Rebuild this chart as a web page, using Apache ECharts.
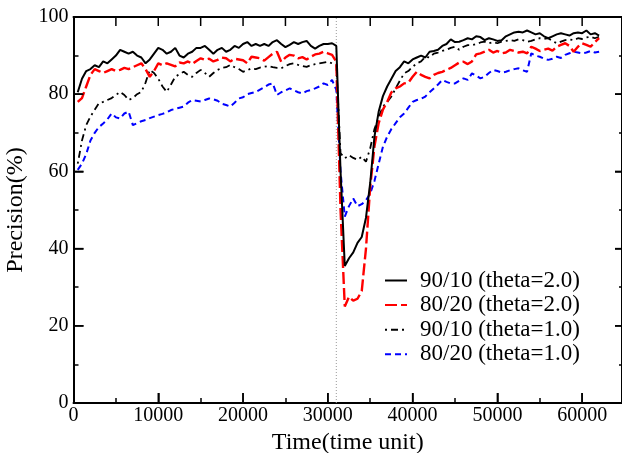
<!DOCTYPE html>
<html>
<head>
<meta charset="utf-8">
<script src="https://cdn.jsdelivr.net/npm/echarts@6/dist/echarts.min.js"></script>
<style>
html,body{margin:0;padding:0;background:#fff;}
#chart{width:622px;height:453px;}
</style>
</head>
<body>
<div id="chart"></div>
<script>
var times = [
  500,1000,1500,2000,2500,3000,3500,4000,4500,5000,
  5500,6000,6500,7000,7500,8000,8500,9000,9500,10000,
  10500,11000,11500,12000,12500,13000,13500,14000,14500,15000,
  15500,16000,16500,17000,17500,18000,18500,19000,19500,20000,
  20500,21000,21500,22000,22500,23000,23500,24000,24500,25000,
  25500,26000,26500,27000,27500,28000,28500,29000,29500,30000,
  30500,31000,31500,32000,32500,33000,33500,34000,34500,35000,
  35500,36000,36500,37000,37500,38000,38500,39000,39500,40000,
  40500,41000,41500,42000,42500,43000,43500,44000,44500,45000,
  45500,46000,46500,47000,47500,48000,48500,49000,49500,50000,
  50500,51000,51500,52000,52500,53000,53500,54000,54500,55000,
  55500,56000,56500,57000,57500,58000,58500,59000,59500,60000,
  60500,61000,61500,62000
];
var s90_10_t2 = [
  80.5,84,86,86.5,87.5,87,88.5,88,89,90,
  91.5,91,90.5,91,90,89.5,88,89,90.5,92,
  91.5,90.5,91,92,90,89.5,90.5,91,92,92,
  92.5,91.5,90.5,91.5,92,91,91.5,92.5,92,93,
  93.5,92.5,93,92.5,93,92.5,93.5,94,93,92.2,
  92.8,93.5,93,93.5,93.8,92.5,91.8,92.5,93,93,
  93.2,92.5,60,35.5,37.5,39,41.5,43,48,57,
  69,75.5,79.5,82,84,86,87,88.5,88,89,
  89.5,90,89.5,91,91.2,91.5,92.5,93,94.2,93.5,
  93.6,94,94.5,94.2,95,94.8,94,94.5,94.2,93.8,
  94,95,95.5,96,96.2,96,96.5,96,95.5,95.8,
  95,94.5,95,95.5,95.8,95.5,95.2,95.8,96,95.8,
  96.5,95.5,95.8,95.2
];
var s80_20_t2 = [
  78,79,82,85,86.5,86,85.5,86,86.5,86,
  86.3,86.8,86.5,87,87.5,88,86.5,84.5,86,88,
  87.5,88,87.6,87.2,88.2,88,88.5,87.8,88.6,89.3,
  88.9,89.2,88.5,88.9,89.5,89.3,88.5,89.2,89,88.8,
  88,89.7,89.5,89.3,88.7,89.6,90.5,91,88.4,89.5,
  90.2,90,89.3,89.6,89,89.7,90.3,90.5,91,90.6,
  90.2,88.4,50,25,27.5,26.5,27,29,40,56,
  66.5,72.5,76,78,80.5,81.5,82,82.8,83,84.5,
  85.8,85,84.5,84.1,85,85.5,85.8,86.3,86.8,87.5,
  88.2,88.4,87.8,88.5,90.3,90.6,91,91.5,90.8,91.2,
  90.6,90.8,91.5,91.2,90.8,91,90.6,92.3,91.8,91.2,
  91.5,91.8,91.3,92.3,92.8,93.2,92.5,91,92.3,93.2,
  92.8,92.3,93.5,94.5
];
var s90_10_t1 = [
  62,68,72,74.2,76,77.7,78,78.5,79,79.8,
  80.6,79.8,78.5,79,80,80.6,83,86.3,85.5,84,
  82,80.6,82.5,84.5,85.2,85.8,85,84.5,85.5,86.3,
  85.5,84.5,85.5,86.3,86.8,87,87.6,87,86.5,85.8,
  86.2,86.7,86.5,86.9,87.1,87.3,87,86.8,86.7,87.3,
  87.8,88,87.6,87.3,87.1,87.5,87.8,88,88.2,88.4,
  88,87.6,64.7,63.4,64.2,63.5,63,63.8,62.5,66,
  71,74,76.8,78,79.4,81.5,83.5,85.4,86,87.1,
  88,88.5,89.7,89.5,90.5,90.8,91.2,91.5,92,92.3,
  91.5,92.3,92.7,92.7,93,93.4,93.6,93.2,93.5,93.2,
  93.6,93.8,94,93.8,94.2,94,93.6,93.8,94.2,94.5,
  94.3,94.5,93.8,93.2,93.6,94,94.2,94,94.5,94.3,
  94.7,94.9,94.5,94.9
];
var s80_20_t1 = [
  60.4,62,64.5,68,70,71.5,72.4,73.5,75,74,
  73.7,75,75.5,72,72.5,73,73.3,73.8,74.2,74.6,
  74.9,75.3,75.9,76.2,76.5,76.8,77.8,78.5,78.3,78.1,
  78.5,78.9,78.7,78.3,77.5,77.2,76.8,77.8,78.9,79.2,
  80,80.3,80.6,81.2,81.8,82.5,82.8,79.8,80.5,81,
  81.5,81,80.5,80.2,80.8,81.1,81.5,82,82.8,82.4,
  83.7,81.1,60,48.3,51,53,51,51.5,52.5,54.3,
  57.5,62,66.4,69,71,72.5,74,75,76.5,78,
  78.5,78.8,79.4,80.5,81.5,82.5,83.7,83.2,82.8,82.8,
  83.5,84.1,83.7,85.4,84.8,84.1,84.5,85.5,86.3,86,
  85.6,85.8,86.2,86.5,86.7,86.2,85.8,90.6,90,89.7,
  89.2,88.9,89.2,89.7,89.4,90.2,90.6,91,90.8,90.6,
  90.8,91.2,90.8,91
];
var seriesNames = ['90/10 (theta=2.0)','80/20 (theta=2.0)','90/10 (theta=1.0)','80/20 (theta=1.0)'];
var markerTime = [31000];
var xTicks = [0,10000,20000,30000,40000,50000,60000];
var xTopTicks = [5000,10000,15000,20000,25000,30000,35000,40000,45000,50000,55000,60000];
var yTicks = [20,40,60,80];

function pairs(vals){ return times.map(function(t,i){ return [t, vals[i]]; }); }

var FONT = "'Liberation Serif','Times New Roman',serif";
var X_MAX = 64700;
var Y_MAX = 100;
var chart = echarts.init(document.getElementById('chart'), null, {renderer:'canvas'});

// tick marks placed at axis values through the library's coordinate system
var tickMarks = [];
xTicks.forEach(function(v){ if (v > 0) tickMarks.push({value:[v, 0], side:'b', len:10}); });
xTopTicks.forEach(function(v){ tickMarks.push({value:[v, Y_MAX], side:'t', len:9}); });
yTicks.forEach(function(v){ tickMarks.push({value:[0, v], side:'l', len:10}); });
yTicks.forEach(function(v){ tickMarks.push({value:[X_MAX, v], side:'r', len:7}); });

var xBottom = {
  type:'value', position:'bottom', min:0, max:X_MAX, interval:10000,
  axisLine:{show:true, onZero:false, lineStyle:{color:'#000', width:2}},
  axisTick:{show:true, inside:true, length:10, lineStyle:{color:'#000', width:1.5}},
  minorTick:{show:true, splitNumber:2, length:5, lineStyle:{color:'#000', width:1.5}},
  splitLine:{show:false},
  axisLabel:{show:true, color:'#000', fontFamily:FONT, fontSize:20, margin:3,
    showMaxLabel:false,
    formatter:function(v){ return xTicks.indexOf(v) >= 0 ? String(v) : ''; }},
  name:'Time(time unit)', nameLocation:'middle', nameGap:22,
  nameTextStyle:{color:'#000', fontFamily:FONT, fontSize:24}
};
var xTop = {
  type:'value', position:'top', min:0, max:X_MAX, interval:5000,
  axisLine:{show:true, onZero:false, lineStyle:{color:'#000', width:2}},
  axisTick:{show:false},
  splitLine:{show:false},
  axisLabel:{show:false}
};
var yLeft = {
  type:'value', position:'left', min:0, max:Y_MAX, interval:20,
  axisLine:{show:true, onZero:false, lineStyle:{color:'#000', width:2}},
  axisTick:{show:true, inside:true, length:10, lineStyle:{color:'#000', width:1.5}},
  minorTick:{show:true, splitNumber:2, length:5, lineStyle:{color:'#000', width:1.5}},
  splitLine:{show:false},
  axisLabel:{show:true, color:'#000', fontFamily:FONT, fontSize:20, margin:5},
  name:'Precision(%)', nameLocation:'middle', nameGap:40,
  nameTextStyle:{color:'#000', fontFamily:FONT, fontSize:24}
};
var yRight = {
  type:'value', position:'right', min:0, max:Y_MAX, interval:20,
  axisLine:{show:true, onZero:false, lineStyle:{color:'#000', width:2}},
  axisTick:{show:true, inside:true, length:7, lineStyle:{color:'#000', width:1.5}},
  minorTick:{show:true, splitNumber:2, length:3, lineStyle:{color:'#000', width:1.5}},
  splitLine:{show:false},
  axisLabel:{show:false}
};

var option = {
  animation:false,
  grid:{left:73.5, right:0, top:17, bottom:50, containLabel:false, outerBoundsMode:'none'},
  xAxis:[xBottom, xTop],
  yAxis:[yLeft, yRight],
  legend:{
    orient:'vertical', left:384, top:269, padding:0,
    itemWidth:22, itemHeight:14, itemGap:1.6,
    itemStyle:{opacity:0, borderWidth:0},
    textStyle:{color:'#000', fontFamily:FONT, fontSize:23, lineHeight:20, padding:[0,0,0,8]},
    data:seriesNames
  },
  series:[
    {
      name:'ticks', type:'custom', coordinateSystem:'cartesian2d', silent:true, clip:false, z:10,
      data:tickMarks.map(function(m){ return m.value; }),
      renderItem:function(params, api){
        var m = tickMarks[params.dataIndex];
        var p = api.coord(m.value);
        var dx = 0, dy = 0;
        if (m.side === 'b') dy = -m.len;
        else if (m.side === 't') dy = m.len;
        else if (m.side === 'l') dx = m.len;
        else dx = -m.len;
        return {type:'line', shape:{x1:p[0], y1:p[1], x2:p[0]+dx, y2:p[1]+dy},
                style:{stroke:'#000', lineWidth:1.5}};
      }
    },
    {
      name:'marker', type:'line', symbol:'none', silent:true,
      data:[[markerTime[0],0],[markerTime[0],100]],
      lineStyle:{color:'#999', width:1, type:[1,2]}
    },
    {
      name:seriesNames[3], type:'line', symbol:'none', data:pairs(s80_20_t1),
      lineStyle:{color:'#0000ff', width:2, type:[6,4]}, itemStyle:{color:'#0000ff'}
    },
    {
      name:seriesNames[2], type:'line', symbol:'none', data:pairs(s90_10_t1),
      lineStyle:{color:'#000', width:1.8, type:[2,4,7,4]}, itemStyle:{color:'#000'}
    },
    {
      name:seriesNames[1], type:'line', symbol:'none', data:pairs(s80_20_t2),
      lineStyle:{color:'#ff0000', width:2.4, type:[12,4]}, itemStyle:{color:'#ff0000'}
    },
    {
      name:seriesNames[0], type:'line', symbol:'none', data:pairs(s90_10_t2),
      lineStyle:{color:'#000', width:2, type:'solid'}, itemStyle:{color:'#000'}
    }
  ]
};
chart.setOption(option);
</script>
</body>
</html>
